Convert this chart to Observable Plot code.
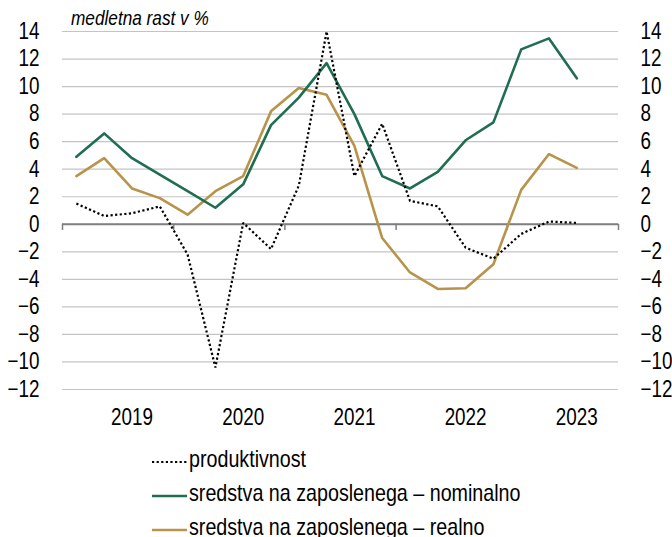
<!DOCTYPE html>
<html>
<head>
<meta charset="utf-8">
<script src="https://cdn.jsdelivr.net/npm/d3@7"></script>
<script src="https://cdn.jsdelivr.net/npm/@observablehq/plot@0.6"></script>
<style>
  html, body { margin: 0; padding: 0; background: #fff; }
  body { font-family: "Liberation Sans", Arial, sans-serif; }
  #wrap { position: relative; width: 672px; height: 537px; overflow: hidden; }
  #title { position: absolute; left: 71px; top: 7px; font-size: 21px; line-height: 21px; font-style: italic; color: #000; white-space: nowrap; transform: scaleX(0.82); transform-origin: 0 0; }
  #chart { position: absolute; left: 0; top: 0; }
  .leg { position: absolute; left: 151px; height: 32px; line-height: 32px; font-size: 24px; color: #000; white-space: nowrap; display: flex; }
  .leg svg { flex: none; }
  .leg span { display: inline-block; transform: scaleX(0.82); transform-origin: 0 0; }
</style>
</head>
<body>
<div id="wrap">
  <div id="chart"></div>
  <div id="title">medletna rast v %</div>
  <div id="legend"></div>
</div>
<script>
// ---- data (quarterly, 2019Q1 – 2023Q4) ----
const quarters = [
  "2019Q1","2019Q2","2019Q3","2019Q4",
  "2020Q1","2020Q2","2020Q3","2020Q4",
  "2021Q1","2021Q2","2021Q3","2021Q4",
  "2022Q1","2022Q2","2022Q3","2022Q4",
  "2023Q1","2023Q2","2023Q3","2023Q4"
];
const years = ["2019", "2020", "2021", "2022", "2023"];
const produktivnost = [1.5, 0.6, 0.8, 1.3, -2.2, -10.4, 0.1, -1.8, 2.8, 14.0, 3.5, 7.3, 1.7, 1.3, -1.7, -2.5, -0.7, 0.2, 0.1];
const nominalno = [4.9, 6.6, 4.8, 3.6, 2.4, 1.2, 2.9, 7.2, 9.2, 11.7, 8.0, 3.5, 2.6, 3.8, 6.1, 7.4, 12.7, 13.5, 10.6];
const realno = [3.5, 4.8, 2.6, 1.9, 0.7, 2.4, 3.5, 8.2, 9.9, 9.4, 5.7, -1.0, -3.5, -4.7, -4.65, -2.9, 2.5, 5.1, 4.1];
const yTicks = [-12, -10, -8, -6, -4, -2, 0, 2, 4, 6, 8, 10, 12, 14];
const seriesNames = [
  "produktivnost",
  "sredstva na zaposlenega – nominalno",
  "sredstva na zaposlenega – realno"
];
const seriesColors = ["#000000", "#1f6e4f", "#b8934a"];

// ---- build tables ----
function rows(values, name) {
  return values.map((v, i) => ({ i, q: quarters[i], v, name }));
}
const prodRows = rows(produktivnost, seriesNames[0]);
const nomRows = rows(nominalno, seriesNames[1]);
const realRows = rows(realno, seriesNames[2]);
const yearRows = years.map((y) => ({ label: y, i: quarters.indexOf(y + "Q3") }));
const boundaries = years.map(y => quarters.indexOf(y + "Q1") - 0.5).concat([quarters.length - 0.5]);

const FONT = '"Liberation Sans", Arial, sans-serif';
const chart = Plot.plot({
  width: 672,
  height: 430,
  marginLeft: 62,
  marginRight: 54,
  marginTop: 31,
  marginBottom: 41,
  style: { fontFamily: FONT, fontSize: "23px", color: "#000", background: "#fff" },
  x: { domain: [-0.5, quarters.length - 0.5], axis: null },
  y: { domain: [-12, 14], axis: null },
  marks: [
    Plot.gridY(yTicks, { stroke: "#c4c4c4", strokeOpacity: 1, strokeWidth: 1.2 }),
    Plot.ruleY([0], { stroke: "#7f7f7f", strokeWidth: 2 }),
    Plot.ruleX(boundaries, { y1: 0, y2: -0.45, stroke: "#7f7f7f", strokeWidth: 1.5 }),
    Plot.axisY(yTicks, { anchor: "left", label: null, tickSize: 0, tickPadding: 23, fontSize: 23 }),
    Plot.axisY(yTicks, { anchor: "right", label: null, tickSize: 0, tickPadding: 22, fontSize: 23 }),
    Plot.text(yearRows, { x: "i", text: "label", frameAnchor: "bottom", dy: 28, fontSize: 23, lineAnchor: "middle" }),
    Plot.line(realRows, { x: "i", y: "v", stroke: seriesColors[2], strokeWidth: 2.6 }),
    Plot.line(nomRows, { x: "i", y: "v", stroke: seriesColors[1], strokeWidth: 2.6 }),
    Plot.line(prodRows, { x: "i", y: "v", stroke: seriesColors[0], strokeWidth: 2.2, strokeDasharray: "2.2,2.4", strokeLinecap: "butt", strokeLinejoin: "miter" })
  ]
});

// emulate a narrow (condensed) typeface: squeeze text horizontally around its anchor
chart.querySelectorAll("text").forEach(t => {
  const tr = t.getAttribute("transform");
  if (tr) {
    t.setAttribute("transform", tr + " scale(0.82,1)");
  } else {
    const x = +t.getAttribute("x") || 0, y = +t.getAttribute("y") || 0;
    t.removeAttribute("x"); t.removeAttribute("y");
    t.setAttribute("transform", `translate(${x},${y}) scale(0.82,1)`);
  }
});
document.getElementById("chart").appendChild(chart);

// ---- legend ----
const legend = document.getElementById("legend");
const legendTops = [443, 477, 511];
seriesNames.forEach((name, k) => {
  const row = document.createElement("div");
  row.className = "leg";
  row.style.top = legendTops[k] + "px";
  const dash = k === 0 ? 'stroke-dasharray="2.2,2.4"' : "";
  const sw = k === 0 ? 2.2 : 2.6;
  row.innerHTML = `<svg width="38" height="32"><line x1="1" x2="36" y1="19" y2="19" stroke="${seriesColors[k]}" stroke-width="${sw}" ${dash}/></svg><span>${name}</span>`;
  legend.appendChild(row);
});
</script>
</body>
</html>
